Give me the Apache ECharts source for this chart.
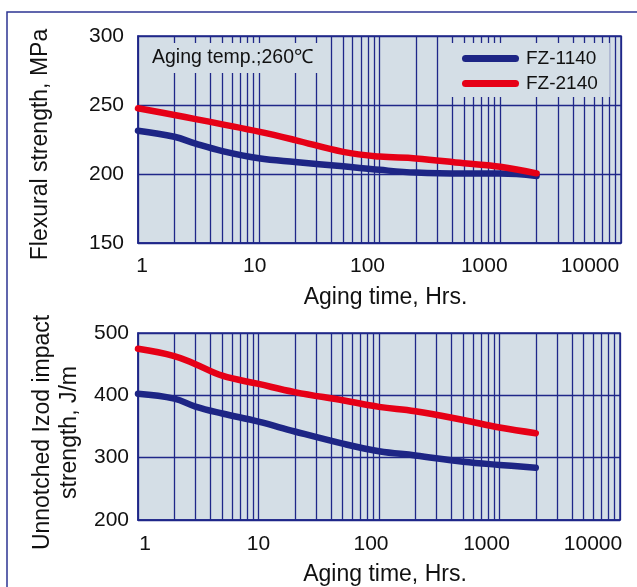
<!DOCTYPE html>
<html>
<head>
<meta charset="utf-8">
<script src="https://cdn.jsdelivr.net/npm/echarts@6/dist/echarts.min.js"></script>
<style>
html,body{margin:0;padding:0;background:#fff;}
#chart{width:637px;height:587px;}
</style>
</head>
<body>
<div id="chart"></div>
<script>
// ---- data ----
const hours = [1, 2, 3, 5, 10, 20, 50, 100, 200, 500, 1000, 2000];
const flexFZ1140 = [231.4, 227.0, 222.0, 216.6, 211.4, 208.7, 205.6, 203.0, 201.0, 200.3, 200.3, 198.6];
const flexFZ2140 = [247.6, 242.8, 239.8, 236.0, 230.7, 224.6, 216.0, 212.6, 211.3, 207.8, 205.3, 200.5];
const izodFZ1140 = [402.5, 394.7, 382.0, 370.9, 357.8, 342.0, 322.5, 310.4, 303.6, 293.6, 288.4, 284.0];
const izodFZ2140 = [474.7, 463.0, 450.0, 431.5, 418.3, 405.2, 392.0, 381.5, 374.6, 360.4, 348.3, 339.3];
const seriesNames = ['FZ-1140', 'FZ-2140'];
const xTickLabels = ['1', '10', '100', '1000', '10000'];
const minorGridHours = [2,3,4,5,6,7,8,9,20,30,40,50,60,70,80,90,200,300,400,500,600,700,800,900,2000,3000,4000,5000,6000,7000,8000,9000];
const flexTicks = {min: 150, max: 300, interval: 50};
const izodTicks = {min: 200, max: 500, interval: 100};

// ---- styles ----
const NAVY = '#1f2789';
const BLUE = '#1d2585';
const RED = '#e60016';
const BG = '#d4dee6';
const TXT = '#111111';
const FONT = '"Liberation Sans", Arial, sans-serif';
const GRIDW = 1.3;

function labelShift(shifts) {
  const rich = {};
  shifts.forEach((s, i) => {
    rich['s' + i] = {
      fontSize: 21, fontFamily: FONT, color: TXT,
      padding: s >= 0 ? [0, 0, 0, 2 * s] : [0, -2 * s, 0, 0]
    };
  });
  return {
    formatter: function (v) {
      const idx = xTickLabels.indexOf(String(Math.round(v)));
      if (idx < 0) return '';
      return '{s' + idx + '|' + xTickLabels[idx] + '}';
    },
    rich: rich
  };
}
const topShift = labelShift([4, -4, -12, -16, -31]);
const botShift = labelShift([7, 0, -8, -13, -27]);

function xAxisDef(gi, shift, margin, gap) {
  return {
    type: 'log', logBase: 10, min: 1, max: 10000, gridIndex: gi,
    axisLine: {show: true, lineStyle: {color: NAVY, width: 1.5}},
    axisTick: {show: false},
    splitLine: {show: true, lineStyle: {color: NAVY, width: GRIDW}},
    axisLabel: {show: true, margin: margin, fontSize: 21, fontFamily: FONT, color: TXT,
      formatter: shift.formatter, rich: shift.rich},
    name: 'Aging time, Hrs.', nameLocation: 'middle', nameGap: gap,
    nameTextStyle: {fontSize: 23, fontFamily: FONT, color: TXT, padding: [0, 0, 0, 12]}
  };
}
function yAxisDef(gi, t, name, gap, margin, extra) {
  return {
    type: 'value', gridIndex: gi, min: t.min, max: t.max, interval: t.interval,
    axisLine: {show: true, lineStyle: {color: NAVY, width: 1.5}},
    axisTick: {show: false},
    splitLine: {show: true, lineStyle: {color: NAVY, width: GRIDW}},
    axisLabel: {margin: margin, fontSize: 21, fontFamily: FONT, color: TXT},
    name: name, nameLocation: 'middle', nameGap: gap,
    nameTextStyle: Object.assign({fontSize: 23, fontFamily: FONT, color: TXT}, extra || {})
  };
}
function gridLineSeries(gi) {
  return {
    type: 'line', xAxisIndex: gi, yAxisIndex: gi, data: [], silent: true, z: 1,
    markLine: {
      silent: true, z: 1, symbol: ['none', 'none'], animation: false,
      label: {show: false},
      lineStyle: {color: NAVY, width: GRIDW, type: 'solid', opacity: 1},
      emphasis: {disabled: true},
      data: minorGridHours.map(h => ({xAxis: h}))
    }
  };
}
function dataSeries(gi, name, color, vals) {
  return {
    name: name, type: 'line', xAxisIndex: gi, yAxisIndex: gi, z: 3,
    smooth: 0.4, symbol: 'none', showSymbol: false,
    lineStyle: {color: color, width: 6.5, cap: 'round', join: 'round'},
    itemStyle: {color: color},
    data: hours.map((h, i) => [h, vals[i]])
  };
}

const chart = echarts.init(document.getElementById('chart'), null, {renderer: 'canvas'});
chart.setOption({
  animation: false,
  backgroundColor: '#ffffff',
  textStyle: {fontFamily: FONT},
  graphic: [{
    type: 'rect', z: 100, silent: true,
    shape: {x: 7, y: 12, width: 700, height: 700},
    style: {fill: 'none', stroke: '#2c3592', lineWidth: 1.5}
  }],
  title: {
    text: 'Aging temp.;260\u2103', left: 148, top: 43, padding: [5, 6, 5, 4],
    backgroundColor: BG, z: 10,
    textStyle: {fontSize: 19.5, fontWeight: 'normal', color: TXT, fontFamily: FONT}
  },
  legend: {
    data: seriesNames, orient: 'vertical', left: 450, top: 43,
    itemWidth: 57, itemHeight: 7, itemGap: 6, padding: [6, 12, 4, 12],
    backgroundColor: BG, z: 10,
    icon: 'path://M3.5,0 L53.5,0 A3.5,3.5 0 0 1 53.5,7 L3.5,7 A3.5,3.5 0 0 1 3.5,0 Z',
    textStyle: {fontSize: 19, color: TXT, fontFamily: FONT, padding: [0, 0, 0, 2]}
  },
  grid: [
    {left: 138, top: 36, width: 483, height: 207, show: true, backgroundColor: BG, borderColor: NAVY, borderWidth: 1.5},
    {left: 138, top: 333, width: 482, height: 190, show: true, backgroundColor: BG, borderColor: NAVY, borderWidth: 1.5}
  ],
  xAxis: [xAxisDef(0, topShift, 13, 43), xAxisDef(1, botShift, 14, 43)],
  yAxis: [
    yAxisDef(0, flexTicks, 'Flexural strength, MPa', 86, 14, {padding: [0, 10, 0, 0]}),
    yAxisDef(1, izodTicks, 'Unnotched Izod impact\nstrength, J/m', 55, 9, {lineHeight: 27, padding: [0, 12, 0, 0]})
  ],
  series: [
    gridLineSeries(0), gridLineSeries(1),
    dataSeries(0, seriesNames[0], BLUE, flexFZ1140),
    dataSeries(0, seriesNames[1], RED, flexFZ2140),
    dataSeries(1, seriesNames[0], BLUE, izodFZ1140),
    dataSeries(1, seriesNames[1], RED, izodFZ2140)
  ]
});
</script>
</body>
</html>
